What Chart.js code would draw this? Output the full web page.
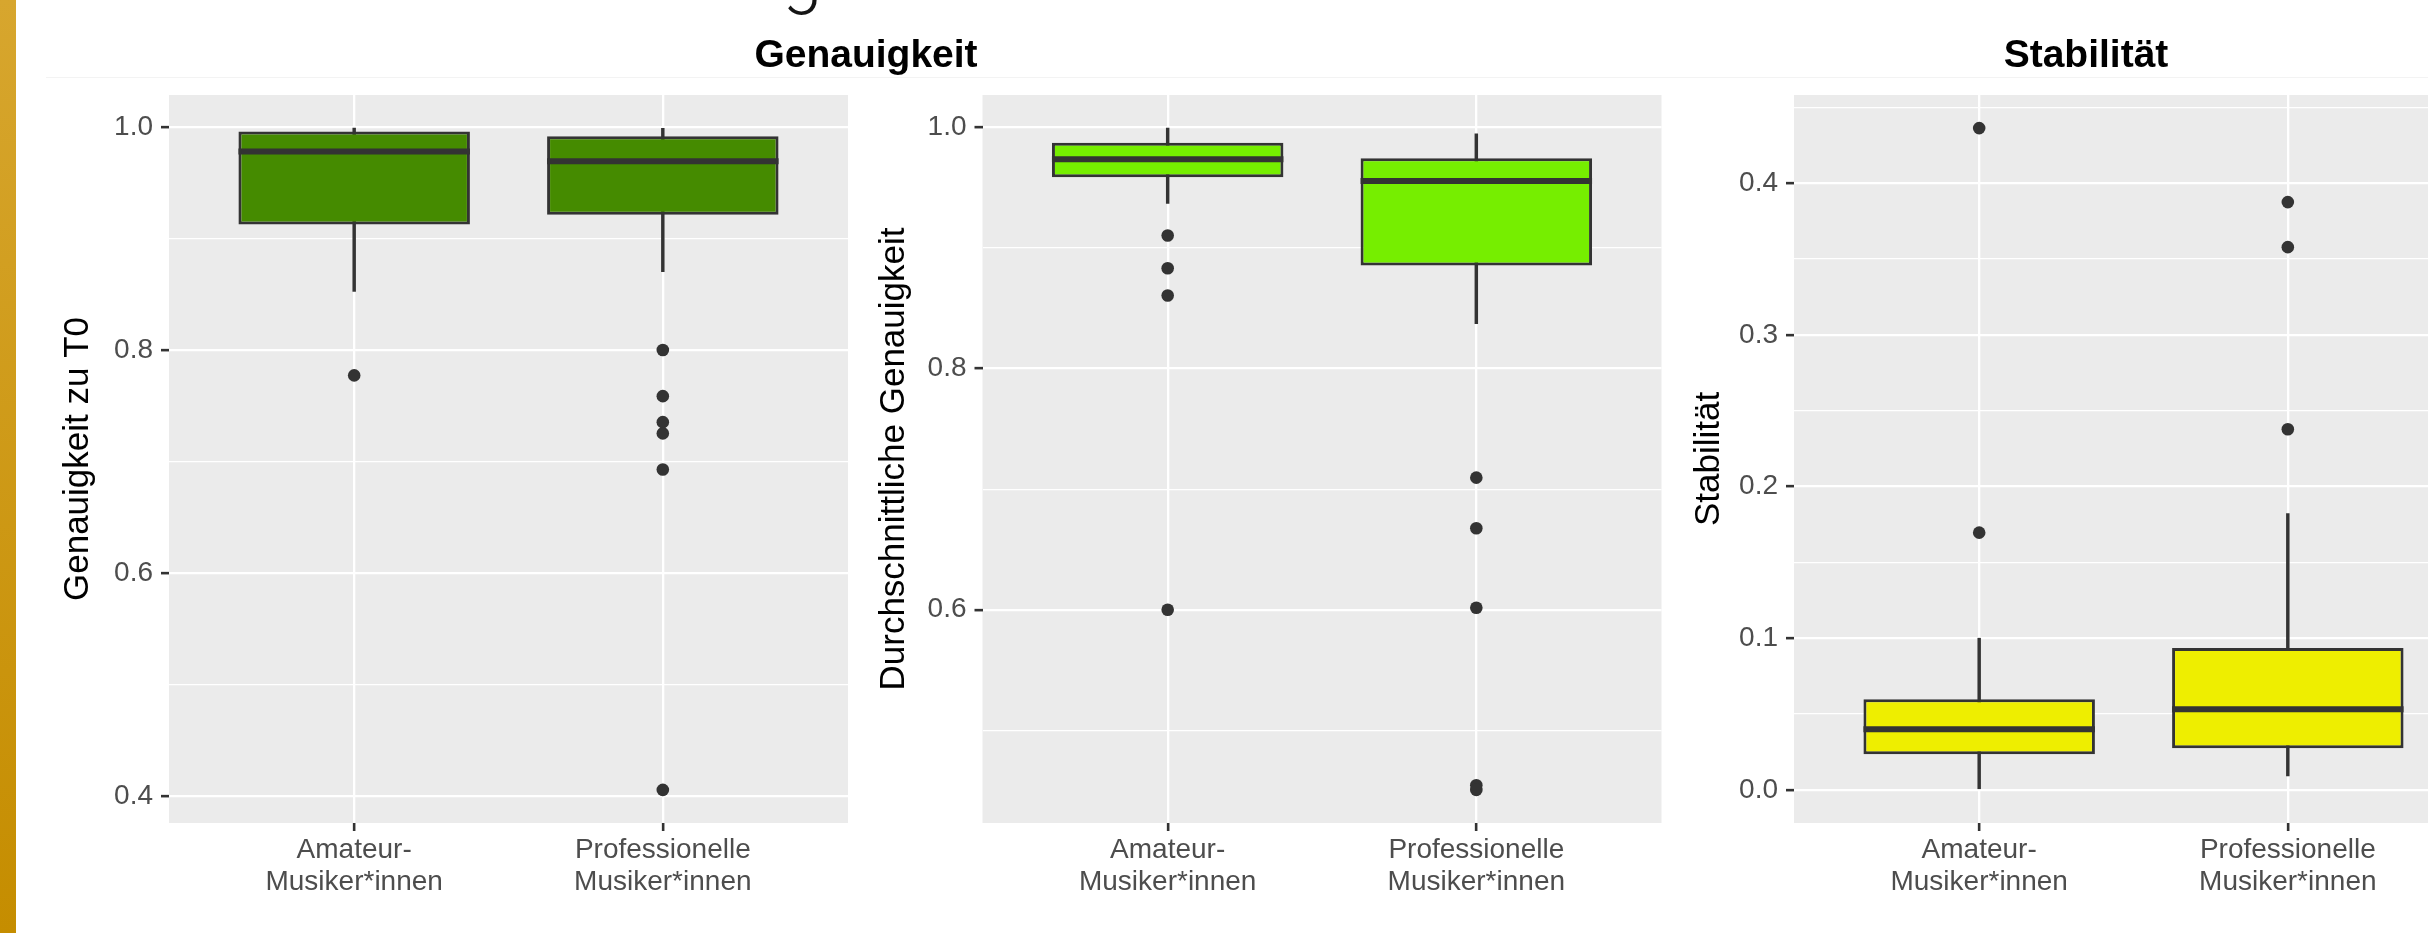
<!DOCTYPE html>
<html lang="de">
<head>
<meta charset="utf-8">
<title>Genauigkeit und Stabilität</title>
<script src="https://cdn.jsdelivr.net/npm/chart.js@4.4.1/dist/chart.umd.min.js"></script>
<style>
  html, body { margin: 0; padding: 0; background: #ffffff; overflow: hidden; }
  body { width: 2428px; height: 933px; position: relative; }
  .stripe { position: absolute; left: 0; top: 0; width: 16px; height: 933px;
            background: linear-gradient(#D7A62E, #C58D00); }
  .rule { position: absolute; left: 46px; top: 77px; width: 2382px; height: 1px; background: #F3F3F3; }
  .ptitle { position: absolute; top: 34px; width: 800px; text-align: center; color: #000;
            font: bold 39px "Liberation Sans", Arial, Helvetica, sans-serif; line-height: 39px; }
  canvas { position: absolute; top: 0; }
</style>
</head>
<body>
<div class="stripe"></div>
<canvas id="headline" width="2428" height="40" style="left:0px"></canvas>
<div class="rule"></div>
<div class="ptitle" style="left:466px">Genauigkeit</div>
<div class="ptitle" style="left:1686px">Stabilität</div>

<canvas id="c1" width="860" height="933" style="left:0px"></canvas>
<canvas id="c2" width="820" height="933" style="left:860px"></canvas>
<canvas id="c3" width="800" height="933" style="left:1680px"></canvas>

<script>
// ---- groups on the x axis ----
const CATEGORIES = [['Amateur-', 'Musiker*innen'], ['Professionelle', 'Musiker*innen']];

// ---- Genauigkeit zu T0 ----
const accT0Q1          = [0.9125, 0.9214];
const accT0Median      = [0.9780, 0.9692];
const accT0Q3          = [0.9959, 0.9917];
const accT0WhiskerLow  = [0.8526, 0.8703];
const accT0WhiskerHigh = [0.9990, 0.9988];
const accT0OutliersAmateur = [0.7773];
const accT0OutliersPro     = [0.8000, 0.7587, 0.7354, 0.7253, 0.6930, 0.4057];
const accT0TicksMajor = [0.4, 0.6, 0.8, 1.0];
const accT0TicksMinor = [0.5, 0.7, 0.9];

// ---- Durchschnittliche Genauigkeit ----
const accAvgQ1          = [0.9584, 0.8853];
const accAvgMedian      = [0.9734, 0.9554];
const accAvgQ3          = [0.9870, 0.9742];
const accAvgWhiskerLow  = [0.9368, 0.8371];
const accAvgWhiskerHigh = [0.9992, 0.9945];
const accAvgOutliersAmateur = [0.9102, 0.8831, 0.8604, 0.6000];
const accAvgOutliersPro     = [0.7095, 0.6676, 0.6017, 0.4545, 0.4507];
const accAvgTicksMajor = [0.6, 0.8, 1.0];
const accAvgTicksMinor = [0.5, 0.7, 0.9];

// ---- Stabilität ----
const stabQ1          = [0.0235, 0.0275];
const stabMedian      = [0.0400, 0.0532];
const stabQ3          = [0.0598, 0.0936];
const stabWhiskerLow  = [0.0000, 0.0092];
const stabWhiskerHigh = [0.1000, 0.1822];
const stabOutliersAmateur = [0.4363, 0.1696];
const stabOutliersPro     = [0.3875, 0.3578, 0.2378];
const stabTicksMajor = [0.0, 0.1, 0.2, 0.3, 0.4];
const stabTicksMinor = [0.05, 0.15, 0.25, 0.35, 0.45];

const Y_TITLES = ['Genauigkeit zu T0', 'Durchschnittliche Genauigkeit', 'Stabilität'];
const FILLS = ['#458B00', '#76EE00', '#EEEE00'];
const HEADLINE = 'Unterschiede im Vergleich: Amateur- und Berufsmusiker*innen';

// ---- styling ----
const FONT = '"Liberation Sans", Arial, Helvetica, sans-serif';
const INK = '#333333';
const BOX_WIDTH = 0.75;      // in category units
const CAT_EXPAND = 0.6;      // padding on each side of the discrete axis
const RANGE_EXPAND = 0.05;   // relative padding of the value axis
Chart.defaults.font.family = FONT;

// grey panel behind the plotting area
const panelBackground = {
  id: 'panelBackground',
  beforeDraw(chart, args, opts) {
    const { ctx, chartArea: a } = chart;
    ctx.save();
    ctx.fillStyle = opts.color;
    ctx.fillRect(a.left, a.top, a.right - a.left, a.bottom - a.top);
    ctx.restore();
  }
};

function expandRange(values, mult) {
  const lo = Math.min(...values), hi = Math.max(...values);
  const pad = (hi - lo) * mult;
  return [lo - pad, hi + pad];
}

function buildPanel(p) {
  const xs = p.q1.map((_, i) => i + 1);
  const outlierSets = [p.outAmateur, p.outPro];
  const outlierPoints = [];
  outlierSets.forEach((vals, i) => vals.forEach(v => outlierPoints.push({ x: i + 1, y: v })));

  const allValues = [...p.whiskerLow, ...p.whiskerHigh, ...p.outAmateur, ...p.outPro];
  const [yMin, yMax] = expandRange(allValues, RANGE_EXPAND);
  const yTicks = [...p.major, ...p.minor].sort((a, b) => a - b);
  const isMajor = v => p.major.some(m => Math.abs(m - v) < 1e-9);

  const halfBox = chart => {
    const sx = chart.scales.x;
    return Math.abs(sx.getPixelForValue(1 + BOX_WIDTH / 2) - sx.getPixelForValue(1));
  };

  return new Chart(document.getElementById(p.canvas), {
    type: 'bar',
    data: {
      datasets: [
        { // outliers
          type: 'scatter', order: 0,
          data: outlierPoints,
          pointRadius: 6.3, pointHoverRadius: 6.3,
          pointBackgroundColor: INK, pointBorderWidth: 0
        },
        { // medians
          type: 'scatter', order: 1,
          data: xs.map((x, i) => ({ x, y: p.median[i] })),
          pointStyle: 'line',
          pointRadius: c => halfBox(c.chart),
          pointHoverRadius: c => halfBox(c.chart),
          pointBorderColor: INK, pointBorderWidth: 6
        },
        { // boxes (Q1 .. Q3)
          type: 'bar', order: 2,
          data: xs.map((x, i) => ({ x, y: [p.q1[i], p.q3[i]] })),
          backgroundColor: p.fill, borderColor: INK, borderWidth: 3,
          borderSkipped: false, grouped: false,
          barPercentage: BOX_WIDTH, categoryPercentage: 1
        },
        { // whiskers
          type: 'bar', order: 3,
          data: xs.map((x, i) => ({ x, y: [p.whiskerLow[i], p.whiskerHigh[i]] })),
          backgroundColor: INK, borderWidth: 0, grouped: false, barThickness: 2.8
        }
      ]
    },
    options: {
      responsive: false,
      animation: false,
      events: [],
      layout: { padding: { left: p.padLeft, right: p.padRight, top: 95, bottom: 0 } },
      plugins: {
        legend: { display: false },
        tooltip: { enabled: false },
        panelBackground: { color: '#EBEBEB' }
      },
      scales: {
        x: {
          type: 'linear',
          offset: false,
          min: 1 - CAT_EXPAND, max: CATEGORIES.length + CAT_EXPAND,
          afterBuildTicks: s => { s.ticks = CATEGORIES.map((_, i) => ({ value: i + 1 })); },
          afterFit: s => { s.height = 110; },
          border: { display: false },
          grid: { offset: false, color: '#FFFFFF', lineWidth: 2.3, tickLength: 8, tickWidth: 2.6, tickColor: INK },
          ticks: {
            autoSkip: false, maxRotation: 0, minRotation: 0, padding: 3,
            color: '#4D4D4D', font: { family: FONT, size: 28, lineHeight: 1.143 },
            callback: v => CATEGORIES[Math.round(v) - 1]
          }
        },
        y: {
          type: 'linear',
          offset: false,
          min: yMin, max: yMax,
          afterBuildTicks: s => { s.ticks = yTicks.map(v => ({ value: v })); },
          afterFit: s => { s.width = p.axisWidth; },
          border: { display: false },
          grid: {
            offset: false,
            color: '#FFFFFF',
            lineWidth: c => (c.tick && !isMajor(c.tick.value)) ? 1.15 : 2.3,
            tickLength: 8, tickWidth: 2.6,
            tickColor: c => (c.tick && !isMajor(c.tick.value)) ? 'rgba(0,0,0,0)' : INK
          },
          ticks: {
            autoSkip: false, padding: 8,
            color: '#4D4D4D', font: { family: FONT, size: 28 },
            callback: v => isMajor(v) ? v.toFixed(1) : ''
          },
          title: {
            display: true, text: p.title, color: '#000000', padding: 0,
            font: { family: FONT, size: 35 }
          }
        }
      }
    },
    plugins: [panelBackground]
  });
}

buildPanel({
  canvas: 'c1', title: Y_TITLES[0], fill: FILLS[0],
  q1: accT0Q1, median: accT0Median, q3: accT0Q3,
  whiskerLow: accT0WhiskerLow, whiskerHigh: accT0WhiskerHigh,
  outAmateur: accT0OutliersAmateur, outPro: accT0OutliersPro,
  major: accT0TicksMajor, minor: accT0TicksMinor,
  padLeft: 57, axisWidth: 112, padRight: 12
});

buildPanel({
  canvas: 'c2', title: Y_TITLES[1], fill: FILLS[1],
  q1: accAvgQ1, median: accAvgMedian, q3: accAvgQ3,
  whiskerLow: accAvgWhiskerLow, whiskerHigh: accAvgWhiskerHigh,
  outAmateur: accAvgOutliersAmateur, outPro: accAvgOutliersPro,
  major: accAvgTicksMajor, minor: accAvgTicksMinor,
  padLeft: 13, axisWidth: 109.5, padRight: 18.5
});

buildPanel({
  canvas: 'c3', title: Y_TITLES[2], fill: FILLS[2],
  q1: stabQ1, median: stabMedian, q3: stabQ3,
  whiskerLow: stabWhiskerLow, whiskerHigh: stabWhiskerHigh,
  outAmateur: stabOutliersAmateur, outPro: stabOutliersPro,
  major: stabTicksMajor, minor: stabTicksMinor,
  padLeft: 8, axisWidth: 106, padRight: 7
});

// slide heading running off the top edge; its "g" sits at x ≈ 783
(function drawHeadline() {
  const ctx = document.getElementById('headline').getContext('2d');
  ctx.font = '300 72px Roboto';
  ctx.fillStyle = '#151515';
  ctx.textBaseline = 'alphabetic';
  const prefix = HEADLINE.slice(0, HEADLINE.indexOf('g'));
  ctx.fillText(HEADLINE, 783 - ctx.measureText(prefix).width, -1);
})();
</script>
</body>
</html>
